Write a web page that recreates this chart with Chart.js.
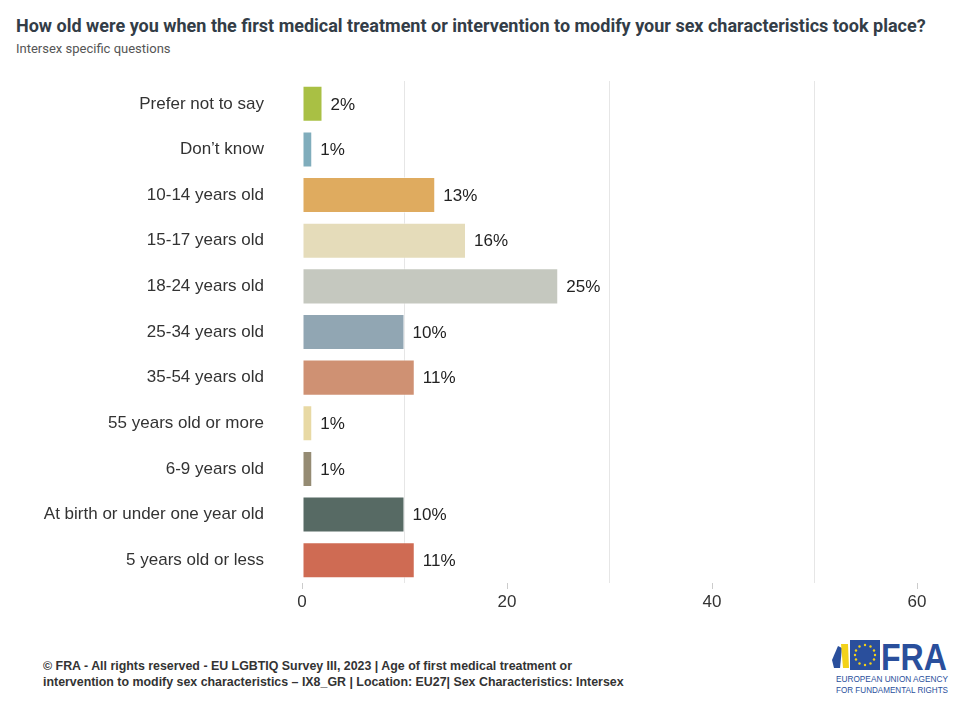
<!DOCTYPE html>
<html><head><meta charset="utf-8">
<script src="https://cdn.jsdelivr.net/npm/chart.js@4"></script>
<style>
html,body{margin:0;padding:0;background:#fff;width:971px;height:703px;overflow:hidden;font-family:Roboto,Arial,sans-serif;}
#title{position:absolute;left:16px;top:15px;font:bold 18px Roboto,Arial,sans-serif;color:#333d47;white-space:nowrap;}
#sub{position:absolute;left:16px;top:41px;font:13px Roboto,Arial,sans-serif;color:#555;}
#wrap{position:absolute;left:0;top:71px;width:971px;height:545px;}
#foot{position:absolute;left:43px;top:658px;font:bold 12.4px Arial,"Liberation Sans",sans-serif;color:#333;line-height:16px;white-space:nowrap;}
#logo{position:absolute;left:828px;top:638px;}
</style></head>
<body>
<div id="title">How old were you when the first medical treatment or intervention to modify your sex characteristics took place?</div>
<div id="sub">Intersex specific questions</div>
<div id="wrap"><canvas id="c"></canvas></div>
<div id="foot">© FRA - All rights reserved - EU LGBTIQ Survey III, 2023 | Age of first medical treatment or<br>intervention to modify sex characteristics – IX8_GR | Location: EU27| Sex Characteristics: Intersex</div>
<svg id="logo" width="122" height="58" viewBox="0 0 122 58">
  <path d="M4 22 L10 8 L14 10 L12 30 L6 30 Z" fill="#2a4f9c"/>
  <path d="M13 6 L20 6 L21 30 L15 30 Z" fill="#f3d21a"/>
  <rect x="22" y="2" width="30" height="30" fill="#2a4f9c"/>
  <g fill="#f3d21a">
    <circle cx="37" cy="7" r="1.2"/><circle cx="42.5" cy="8.5" r="1.2"/><circle cx="46" cy="12.5" r="1.2"/><circle cx="47" cy="17" r="1.2"/><circle cx="46" cy="21.5" r="1.2"/><circle cx="42.5" cy="25.5" r="1.2"/><circle cx="37" cy="27" r="1.2"/><circle cx="31.5" cy="25.5" r="1.2"/><circle cx="28" cy="21.5" r="1.2"/><circle cx="27" cy="17" r="1.2"/><circle cx="28" cy="12.5" r="1.2"/><circle cx="31.5" cy="8.5" r="1.2"/>
  </g>
  <text x="53" y="32" font-family="Arial,sans-serif" font-weight="bold" font-size="36" fill="#2a4f9c" textLength="66" lengthAdjust="spacingAndGlyphs">FRA</text>
  <text x="8" y="44" font-family="Arial,sans-serif" font-size="9.5" fill="#2a4f9c" textLength="112" lengthAdjust="spacingAndGlyphs">EUROPEAN UNION AGENCY</text>
  <text x="8" y="55" font-family="Arial,sans-serif" font-size="9.5" fill="#2a4f9c" textLength="112" lengthAdjust="spacingAndGlyphs">FOR FUNDAMENTAL RIGHTS</text>
</svg>
<script>
const categories = ["Prefer not to say","Don\u2019t know","10-14 years old","15-17 years old","18-24 years old","25-34 years old","35-54 years old","55 years old or more","6-9 years old","At birth or under one year old","5 years old or less"];
const values = [2,1,13,16,25,10,11,1,1,10,11];
const barColors = ["#a9c044","#80adbc","#dfab5f","#e5dcba","#c5c8bf","#91a6b3","#cf9173","#e8d9a4","#958b73","#576a64","#cf6b53"];
const xTicks = [0,20,40,60];

const valueLabels = {
  id:'valueLabels',
  afterDatasetsDraw(chart){
    const ctx = chart.ctx;
    const meta = chart.getDatasetMeta(0);
    ctx.save();
    ctx.font = '17px Arial, "Liberation Sans", sans-serif';
    ctx.fillStyle = '#222';
    ctx.textAlign = 'left';
    ctx.textBaseline = 'middle';
    meta.data.forEach((bar,i)=>{
      ctx.fillText(values[i] + '%', bar.x + 8, bar.y + 1);
    });
    ctx.restore();
  }
};

new Chart(document.getElementById('c'), {
  type:'bar',
  data:{labels:categories, datasets:[{data:values, backgroundColor:barColors, borderColor:'rgba(255,255,255,0.5)', borderWidth:1, borderSkipped:false, barPercentage:0.79, categoryPercentage:1}]},
  options:{
    indexAxis:'y',
    responsive:true, maintainAspectRatio:false, animation:false,
    devicePixelRatio:1,
    layout:{padding:{top:10,right:54,left:0,bottom:0}},
    plugins:{legend:{display:false}, tooltip:{enabled:false}},
    scales:{
      x:{
        min:0,max:60,
        ticks:{stepSize:10, color:'#333', font:{size:17, family:'Arial, "Liberation Sans", sans-serif'}, padding:3,
          callback:(v)=> xTicks.includes(v) ? String(v) : ''},
        grid:{
          color:(c)=> (c.tick && c.tick.value % 20 === 10) ? '#e6e6e6' : 'rgba(0,0,0,0)',
          tickColor:(c)=> (c.tick && c.tick.value % 20 === 0) ? '#ccc' : 'rgba(0,0,0,0)',
          tickLength:6, lineWidth:1, drawOnChartArea:true
        },
        border:{display:false},
        afterFit:(s)=>{s.height = 33;}
      },
      y:{
        ticks:{color:'#333', font:{size:17, family:'Arial, "Liberation Sans", sans-serif'}, padding:38},
        grid:{display:false, drawTicks:false},
        border:{display:false},
        afterFit:(s)=>{s.width = 302; s.paddingTop = 0; s.paddingBottom = 0;}
      }
    }
  },
  plugins:[valueLabels]
});
</script>
</body></html>
